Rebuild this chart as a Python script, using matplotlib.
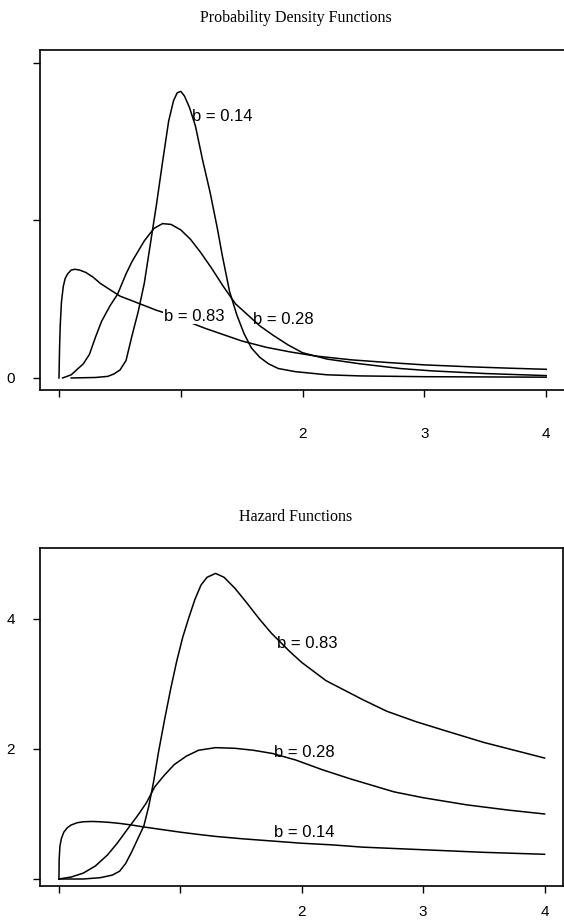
import matplotlib
matplotlib.use("Agg")
import matplotlib.pyplot as plt

# ---- probability density functions ----
pdf_x_083 = [0, 0.002, 0.005, 0.01, 0.02, 0.035, 0.05, 0.07, 0.10, 0.13, 0.17, 0.22, 0.28,
             0.34, 0.42, 0.50, 0.60, 0.70, 0.80, 0.92, 1.05, 1.20, 1.35, 1.50, 1.70, 1.90,
             2.10, 2.40, 2.70, 3.00, 3.40, 3.70, 4.00]
pdf_y_083 = [0, 0.08, 0.20, 0.33, 0.48, 0.58, 0.63, 0.66, 0.685, 0.69, 0.685, 0.67, 0.64,
             0.60, 0.56, 0.52, 0.49, 0.46, 0.43, 0.40, 0.36, 0.315, 0.275, 0.235, 0.195, 0.165,
             0.14, 0.115, 0.098, 0.083, 0.07, 0.062, 0.055]

pdf_x_028 = [0.03, 0.10, 0.20, 0.25, 0.30, 0.35, 0.42, 0.48, 0.55, 0.60, 0.70, 0.78, 0.85,
             0.92, 1.00, 1.08, 1.16, 1.25, 1.35, 1.45, 1.55, 1.65, 1.76, 1.88, 2.00, 2.20,
             2.47, 2.80, 3.06, 3.50, 4.00]
pdf_y_028 = [0, 0.02, 0.09, 0.15, 0.26, 0.36, 0.46, 0.53, 0.66, 0.74, 0.87, 0.95, 0.98,
             0.975, 0.94, 0.88, 0.80, 0.70, 0.58, 0.47, 0.40, 0.33, 0.27, 0.21, 0.16, 0.12,
             0.09, 0.06, 0.045, 0.028, 0.015]

pdf_x_014 = [0.10, 0.30, 0.40, 0.45, 0.50, 0.55, 0.60, 0.65, 0.70, 0.75, 0.80, 0.85, 0.90,
             0.94, 0.97, 1.00, 1.03, 1.07, 1.12, 1.18, 1.24, 1.30, 1.34, 1.40, 1.46, 1.52,
             1.58, 1.65, 1.72, 1.80, 1.94, 2.20, 2.47, 3.00, 4.00]
pdf_y_014 = [0, 0.003, 0.01, 0.025, 0.05, 0.11, 0.27, 0.42, 0.60, 0.85, 1.10, 1.37, 1.63,
             1.76, 1.81, 1.82, 1.79, 1.72, 1.60, 1.38, 1.18, 0.95, 0.78, 0.55, 0.40, 0.28,
             0.19, 0.13, 0.09, 0.06, 0.04, 0.02, 0.013, 0.008, 0.005]

# ---- hazard functions ----
haz_x_014 = [0, 0.002, 0.008, 0.02, 0.04, 0.07, 0.10, 0.15, 0.20, 0.27, 0.34, 0.42, 0.50,
             0.60, 0.70, 0.85, 1.00, 1.15, 1.29, 1.50, 1.75, 2.00, 2.25, 2.50, 2.75, 3.00,
             3.25, 3.50, 3.75, 4.00]
haz_y_014 = [0, 0.30, 0.50, 0.62, 0.72, 0.79, 0.83, 0.865, 0.88, 0.885, 0.88, 0.87, 0.855,
             0.83, 0.80, 0.76, 0.72, 0.685, 0.655, 0.62, 0.585, 0.55, 0.525, 0.49, 0.47, 0.45,
             0.43, 0.41, 0.395, 0.38]

haz_x_028 = [0, 0.10, 0.20, 0.30, 0.40, 0.48, 0.57, 0.65, 0.72, 0.79, 0.87, 0.95, 1.05,
             1.15, 1.29, 1.45, 1.60, 1.76, 1.95, 2.17, 2.40, 2.76, 3.00, 3.36, 3.70, 4.00]
haz_y_028 = [0, 0.03, 0.09, 0.20, 0.37, 0.55, 0.78, 0.98, 1.17, 1.42, 1.60, 1.76, 1.89,
             1.98, 2.02, 2.01, 1.98, 1.93, 1.83, 1.68, 1.54, 1.34, 1.25, 1.14, 1.06, 1.00]

haz_x_083 = [0, 0.20, 0.34, 0.44, 0.50, 0.55, 0.60, 0.65, 0.70, 0.74, 0.78, 0.82, 0.87,
             0.92, 0.97, 1.02, 1.07, 1.12, 1.17, 1.22, 1.29, 1.36, 1.45, 1.55, 1.65, 1.75,
             1.90, 2.00, 2.20, 2.50, 2.70, 2.94, 3.20, 3.50, 3.75, 4.00]
haz_y_083 = [0, 0, 0.02, 0.06, 0.12, 0.24, 0.42, 0.62, 0.82, 1.12, 1.50, 1.95, 2.45,
             2.92, 3.35, 3.72, 4.02, 4.30, 4.52, 4.64, 4.70, 4.64, 4.47, 4.24, 4.00, 3.78,
             3.50, 3.33, 3.05, 2.76, 2.58, 2.42, 2.27, 2.10, 1.98, 1.86]

xticks = [0, 1, 2, 3, 4]
xtick_labels = ["", "", "2", "3", "4"]

serif = ["Liberation Serif", "DejaVu Serif"]
sans = ["Liberation Sans", "DejaVu Sans"]

fig = plt.figure(figsize=(5.64, 9.24), dpi=100)

lw = 1.1
lab_fs = 12

# top panel
ax1 = fig.add_axes([0.0709, 0.578, 0.93, 0.368])
ax1.plot(pdf_x_083, pdf_y_083, color="black", lw=lw)
ax1.plot(pdf_x_028, pdf_y_028, color="black", lw=lw)
ax1.plot(pdf_x_014, pdf_y_014, color="black", lw=lw)
ax1.set_xlim(-0.156, 4.15)
ax1.set_ylim(-0.076, 2.083)
ax1.set_yticks([0, 1, 2])
ax1.set_yticklabels(["0", "", ""])
ax1.spines["right"].set_visible(False)
ax1.text(1.09, 1.66, "b = 0.14", fontsize=lab_fs, family=sans, va="center")
ax1.text(0.86, 0.39, "b = 0.83", fontsize=lab_fs, family=sans, va="center",
         bbox=dict(facecolor="white", edgecolor="none", pad=0.3))
ax1.text(1.59, 0.37, "b = 0.28", fontsize=lab_fs, family=sans, va="center")

# bottom panel
ax2 = fig.add_axes([0.0709, 0.0411, 0.927, 0.3658])
ax2.plot(haz_x_083, haz_y_083, color="black", lw=lw)
ax2.plot(haz_x_028, haz_y_028, color="black", lw=lw)
ax2.plot(haz_x_014, haz_y_014, color="black", lw=lw)
ax2.set_xlim(-0.156, 4.15)
ax2.set_ylim(-0.108, 5.09)
ax2.set_yticks([0, 2, 4])
ax2.set_yticklabels(["", "2", "4"])
ax2.text(1.80, 3.62, "b = 0.83", fontsize=lab_fs, family=sans, va="center")
ax2.text(1.77, 1.95, "b = 0.28", fontsize=lab_fs, family=sans, va="center")
ax2.text(1.77, 0.71, "b = 0.14", fontsize=lab_fs, family=sans, va="center")

for ax, xpad in ((ax1, 22), (ax2, 9)):
    ax.set_xticks(xticks)
    ax.set_xticklabels(xtick_labels)
    ax.tick_params(axis="x", direction="out", length=5, width=1, pad=xpad, labelsize=11)
    ax.tick_params(axis="y", direction="out", length=5, width=1, pad=13, labelsize=11)
    for lab in ax.get_xticklabels() + ax.get_yticklabels():
        lab.set_family(sans)
    for sp in ax.spines.values():
        sp.set_linewidth(1.2)

fig.text(296 / 564, 1 - 18 / 924, "Probability Density Functions", ha="center", va="center",
         fontsize=11.5, family=serif)
fig.text(296 / 564, 1 - 517 / 924, "Hazard Functions", ha="center", va="center",
         fontsize=11.5, family=serif)

fig.savefig("out.png", dpi=100)
